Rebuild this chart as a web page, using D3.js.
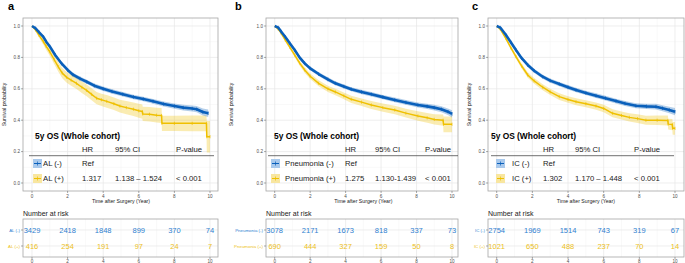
<!DOCTYPE html>
<html><head><meta charset="utf-8">
<script src="https://cdn.jsdelivr.net/npm/d3@7"></script>
<style>body{margin:0;background:#fff}svg{display:block;font-family:"Liberation Sans",Arial,sans-serif}</style>
</head><body><svg id="c" width="685" height="263"></svg>
<script>
// ---------- DATA ----------
const panelLetters = ["a", "b", "c"];
const groupNeg = ["AL (-)", "Pneumonia (-)", "IC (-)"];
const groupPos = ["AL (+)", "Pneumonia (+)", "IC (+)"];
const hrValues = ["1.317", "1.275", "1.302"];
const ciValues = ["1.138 \u2013 1.524", "1.130-1.439", "1.170 \u2013 1.448"];
const pValues = ["< 0.001", "< 0.001", "< 0.001"];
const xTicks = [0, 2, 4, 6, 8, 10];
const yTicks = [0, 0.2, 0.4, 0.6, 0.8, 1.0];
const riskTimes = [0, 2, 4, 6, 8, 10];

// Panel a
const tA_neg = [0,0.2,0.4,0.64,0.8,1.0,1.3,1.67,2.0,2.3,2.7,3.07,3.5,4.0,4.5,5.1,5.7,6.25,6.8,7.4,8.0,8.5,9.0,9.25,9.6,9.9];
const sA_neg = [1,0.985,0.96,0.93,0.90,0.87,0.815,0.76,0.72,0.69,0.665,0.645,0.62,0.60,0.583,0.565,0.548,0.535,0.52,0.503,0.49,0.48,0.474,0.47,0.452,0.444];
const hA_neg = [0,0.004,0.006,0.008,0.009,0.01,0.011,0.012,0.012,0.013,0.013,0.013,0.013,0.014,0.014,0.014,0.014,0.015,0.015,0.016,0.017,0.018,0.019,0.02,0.022,0.024];
const tA_pos = [0,0.2,0.4,0.64,0.8,1.0,1.25,1.48,1.7,1.95,2.2,2.5,2.8,3.07,3.35,3.63,3.9,4.2,4.6,4.94,5.3,5.7,6.0,6.2,6.22,6.6,7.0,7.28,7.3,8.0,9.0,9.8,9.82,10];
const sA_pos = [1,0.975,0.94,0.90,0.87,0.836,0.785,0.74,0.70,0.673,0.655,0.635,0.61,0.59,0.565,0.54,0.53,0.52,0.505,0.49,0.48,0.47,0.46,0.455,0.44,0.438,0.432,0.43,0.38,0.38,0.38,0.38,0.295,0.295];
const hA_pos = [0,0.01,0.015,0.02,0.023,0.026,0.029,0.031,0.033,0.034,0.035,0.036,0.037,0.038,0.038,0.039,0.039,0.04,0.04,0.041,0.042,0.043,0.044,0.045,0.045,0.046,0.047,0.048,0.048,0.049,0.05,0.05,0.1,0.1];

// Panel b
const tB_neg = [0,0.2,0.37,0.6,0.85,1.13,1.4,1.69,2.0,2.48,3.0,3.42,3.9,4.32,4.9,5.45,6.1,6.77,7.4,8.08,8.6,9.0,9.4,9.77,10];
const sB_neg = [1,0.99,0.964,0.93,0.89,0.847,0.80,0.762,0.73,0.694,0.66,0.635,0.615,0.597,0.58,0.565,0.547,0.529,0.513,0.497,0.488,0.48,0.47,0.454,0.44];
const hB_neg = [0,0.004,0.006,0.008,0.009,0.01,0.011,0.012,0.012,0.012,0.013,0.013,0.013,0.013,0.014,0.014,0.014,0.015,0.015,0.016,0.017,0.018,0.019,0.021,0.023];
const tB_pos = [0,0.2,0.37,0.6,0.85,1.13,1.4,1.69,2.0,2.48,3.0,3.42,3.9,4.32,4.9,5.45,6.1,6.77,7.4,8.08,8.6,9.0,9.5,9.52,10];
const sB_pos = [1,0.98,0.953,0.91,0.865,0.815,0.765,0.72,0.68,0.635,0.60,0.58,0.555,0.533,0.515,0.497,0.48,0.465,0.445,0.427,0.415,0.405,0.40,0.374,0.374];
const hB_pos = [0,0.006,0.008,0.01,0.012,0.014,0.016,0.017,0.018,0.019,0.02,0.021,0.022,0.023,0.024,0.025,0.026,0.027,0.028,0.03,0.031,0.033,0.036,0.05,0.05];

// Panel c
const tC_neg = [0,0.2,0.52,0.8,1.08,1.4,1.74,2.1,2.58,3.0,3.51,4.0,4.45,5.0,5.57,6.1,6.69,7.2,7.81,8.4,8.93,9.3,9.68,10];
const sC_neg = [1,0.99,0.943,0.895,0.847,0.795,0.752,0.715,0.677,0.652,0.63,0.61,0.592,0.574,0.556,0.54,0.522,0.507,0.492,0.488,0.486,0.476,0.465,0.454];
const hC_neg = [0,0.004,0.007,0.009,0.01,0.011,0.012,0.012,0.013,0.013,0.013,0.014,0.014,0.014,0.015,0.015,0.015,0.016,0.016,0.017,0.018,0.019,0.021,0.023];
const tC_pos = [0,0.2,0.52,0.8,1.08,1.4,1.74,2.1,2.58,3.0,3.51,4.0,4.45,5.0,5.57,6.0,6.5,7.0,7.44,7.9,8.37,9.0,9.6,9.62,9.85,9.87,10];
const sC_pos = [1,0.98,0.92,0.86,0.805,0.745,0.688,0.65,0.61,0.58,0.55,0.532,0.518,0.505,0.49,0.475,0.444,0.43,0.418,0.41,0.40,0.40,0.398,0.375,0.372,0.348,0.348];
const hC_pos = [0,0.006,0.01,0.012,0.014,0.016,0.017,0.018,0.019,0.02,0.021,0.021,0.022,0.022,0.023,0.024,0.025,0.026,0.027,0.028,0.029,0.03,0.032,0.034,0.036,0.04,0.04];

const riskA_neg = [3429, 2418, 1848, 899, 370, 74];
const riskA_pos = [416, 254, 191, 97, 24, 7];
const riskB_neg = [3078, 2171, 1673, 818, 337, 73];
const riskB_pos = [690, 444, 327, 159, 50, 8];
const riskC_neg = [2754, 1969, 1514, 743, 319, 67];
const riskC_pos = [1021, 650, 488, 237, 70, 14];

// ---------- LAYOUT ----------
const BLUE = "#0a60bb", YELLOW = "#EFC000";
const BLUE_T = "#2f7fd0", YELLOW_T = "#edbf1c";
const layouts = [
  {boxL: 23, boxR: 218, x0: 32, x10: 210, letterX: 8, yTitleX: 4,
   leg: {title: 35, key: 33, label: 43, hr: 82, ci: 115, p: 176, l1: 29, l2: 214}},
  {boxL: 266, boxR: 458, x0: 274.7, x10: 452, letterX: 235, yTitleX: 231,
   leg: {title: 274, key: 271, label: 285, hr: 345, ci: 375, p: 425, l1: 268, l2: 458}},
  {boxL: 488, boxR: 684, x0: 496.7, x10: 675, letterX: 472, yTitleX: 469,
   leg: {title: 491, key: 496, label: 512, hr: 543, ci: 575, p: 634, l1: 491, l2: 674}}
];
const series = [
  {neg: [tA_neg, sA_neg, hA_neg], pos: [tA_pos, sA_pos, hA_pos], rn: riskA_neg, rp: riskA_pos},
  {neg: [tB_neg, sB_neg, hB_neg], pos: [tB_pos, sB_pos, hB_pos], rn: riskB_neg, rp: riskB_pos},
  {neg: [tC_neg, sC_neg, hC_neg], pos: [tC_pos, sC_pos, hC_pos], rn: riskC_neg, rp: riskC_pos}
];

const svg = d3.select("#c");
const boxT = 18, boxB = 191;
const y = d3.scaleLinear().domain([0, 1]).range([183, 26]);

series.forEach((sr, i) => {
  const L = layouts[i];
  const x = d3.scaleLinear().domain([0, 10]).range([L.x0, L.x10]);
  const g = svg.append("g");

  g.append("text").attr("x", L.letterX).attr("y", 10).attr("font-size", 11).attr("font-weight", "bold").text(panelLetters[i]);

  // grid
  const minorX = d3.range(1, 10, 2), minorY = d3.range(0.1, 1, 0.2);
  g.selectAll(".mx").data(minorX).join("line").attr("x1", d => x(d)).attr("x2", d => x(d)).attr("y1", boxT).attr("y2", boxB).attr("stroke", "#f2f2f2").attr("stroke-width", 0.5);
  g.selectAll(".my").data(minorY).join("line").attr("x1", L.boxL).attr("x2", L.boxR).attr("y1", d => y(d)).attr("y2", d => y(d)).attr("stroke", "#f2f2f2").attr("stroke-width", 0.5);
  g.selectAll(".gx").data(xTicks).join("line").attr("x1", d => x(d)).attr("x2", d => x(d)).attr("y1", boxT).attr("y2", boxB).attr("stroke", "#e6e6e6").attr("stroke-width", 0.7);
  g.selectAll(".gy").data(yTicks).join("line").attr("x1", L.boxL).attr("x2", L.boxR).attr("y1", d => y(d)).attr("y2", d => y(d)).attr("stroke", "#e6e6e6").attr("stroke-width", 0.7);

  // curves
  const clipId = "clip" + i;
  g.append("clipPath").attr("id", clipId).append("rect").attr("x", L.boxL).attr("y", boxT).attr("width", L.boxR - L.boxL).attr("height", boxB - boxT);
  const cg = g.append("g").attr("clip-path", `url(#${clipId})`);
  const drawSeries = (arr, color, fillOp, lw, markH) => {
    const [t, s, h] = arr;
    const pts = t.map((d, k) => ({t: d, s: s[k], lo: s[k] - h[k], hi: Math.min(1, s[k] + h[k])}));
    cg.append("path").datum(pts).attr("fill", color).attr("fill-opacity", fillOp)
      .attr("d", d3.area().x(d => x(d.t)).y0(d => y(d.lo)).y1(d => y(d.hi)));
    cg.append("path").datum(pts).attr("fill", "none").attr("stroke", color).attr("stroke-width", lw).attr("stroke-linejoin", "round")
      .attr("d", d3.line().x(d => x(d.t)).y(d => y(d.s)));
    const marks = pts.slice(1);
    cg.selectAll(null).data(marks).join("line")
      .attr("x1", d => x(d.t)).attr("x2", d => x(d.t))
      .attr("y1", d => y(d.s) - markH).attr("y2", d => y(d.s) + markH)
      .attr("stroke", color).attr("stroke-width", 0.7);
  };
  drawSeries(sr.pos, YELLOW, 0.3, 1.5, 1.6);
  drawSeries(sr.neg, BLUE, 0.3, 2.6, 1.8);

  // box
  g.append("rect").attr("x", L.boxL).attr("y", boxT).attr("width", L.boxR - L.boxL).attr("height", boxB - boxT)
    .attr("fill", "none").attr("stroke", "#a6a6a6").attr("stroke-width", 0.8);

  // axes
  g.selectAll(".yt").data(yTicks).join("line").attr("x1", L.boxL - 2).attr("x2", L.boxL).attr("y1", d => y(d)).attr("y2", d => y(d)).attr("stroke", "#555").attr("stroke-width", 0.5);
  g.selectAll(".ytl").data(yTicks).join("text").attr("x", L.boxL - 3).attr("y", d => y(d) + 1.6).attr("text-anchor", "end")
    .attr("font-size", 4.6).attr("fill", "#4d4d4d").text(d => d.toFixed(1));
  g.selectAll(".xt").data(xTicks).join("line").attr("x1", d => x(d)).attr("x2", d => x(d)).attr("y1", boxB).attr("y2", boxB + 2).attr("stroke", "#555").attr("stroke-width", 0.5);
  g.selectAll(".xtl").data(xTicks).join("text").attr("x", d => x(d)).attr("y", boxB + 7).attr("text-anchor", "middle")
    .attr("font-size", 4.6).attr("fill", "#4d4d4d").text(d => d);
  g.append("text").attr("x", (L.x0 + L.x10) / 2).attr("y", 203).attr("text-anchor", "middle").attr("font-size", 5.2).attr("fill", "#222").text("Time after Surgery (Year)");
  g.append("text").attr("transform", `translate(${L.yTitleX + 2},${y(0.5)}) rotate(-90)`).attr("text-anchor", "middle").attr("font-size", 5.2).attr("fill", "#222").text("Survival probability");

  // legend table
  const lg = L.leg;
  const fs = 7.7;
  g.append("text").attr("x", lg.title).attr("y", 138.6).attr("font-size", 8.4).attr("font-weight", "bold").text("5y OS (Whole cohort)");
  [["HR", lg.hr], ["95% CI", lg.ci], ["P-value", lg.p]].forEach(([tx, px]) =>
    g.append("text").attr("x", px).attr("y", 152).attr("font-size", fs).attr("fill", "#222").text(tx));
  g.append("line").attr("x1", lg.l1).attr("x2", lg.l2).attr("y1", 155.7).attr("y2", 155.7).attr("stroke", "#333").attr("stroke-width", 0.7);
  const rows = [
    {lab: groupNeg[i], col: BLUE, fill: "#a9c9ec", cy: 163.5, hr: "Ref", ci: "", p: ""},
    {lab: groupPos[i], col: YELLOW, fill: "#f8e6a0", cy: 178.5, hr: hrValues[i], ci: ciValues[i], p: pValues[i]}
  ];
  rows.forEach(r => {
    g.append("rect").attr("x", lg.key).attr("y", r.cy - 4.5).attr("width", 9).attr("height", 9).attr("fill", r.fill);
    g.append("line").attr("x1", lg.key + 1).attr("x2", lg.key + 8).attr("y1", r.cy).attr("y2", r.cy).attr("stroke", r.col).attr("stroke-width", 1);
    g.append("line").attr("x1", lg.key + 4.5).attr("x2", lg.key + 4.5).attr("y1", r.cy - 2).attr("y2", r.cy + 2).attr("stroke", r.col).attr("stroke-width", 0.7);
    [[r.lab, lg.label], [r.hr, lg.hr], [r.ci, lg.ci], [r.p, lg.p]].forEach(([tx, px]) =>
      g.append("text").attr("x", px).attr("y", r.cy + 2.7).attr("font-size", fs).attr("fill", "#222").text(tx));
  });

  // risk table
  const rT = 219, rB = 257;
  const rowY = [230, 246];
  g.append("text").attr("x", L.boxL).attr("y", 216).attr("font-size", 7).attr("fill", "#222").text("Number at risk");
  g.selectAll(".rgx").data(d3.range(0, 11)).join("line").attr("x1", d => x(d)).attr("x2", d => x(d)).attr("y1", rT).attr("y2", rB)
    .attr("stroke", d => d % 2 ? "#f2f2f2" : "#e6e6e6").attr("stroke-width", d => d % 2 ? 0.5 : 0.7);
  g.selectAll(".rgy").data(rowY).join("line").attr("x1", L.boxL).attr("x2", L.boxR).attr("y1", d => d).attr("y2", d => d).attr("stroke", "#e6e6e6").attr("stroke-width", 0.7);
  g.append("rect").attr("x", L.boxL).attr("y", rT).attr("width", L.boxR - L.boxL).attr("height", rB - rT).attr("fill", "none").attr("stroke", "#a6a6a6").attr("stroke-width", 0.8);
  [[sr.rn, BLUE_T, groupNeg[i]], [sr.rp, YELLOW_T, groupPos[i]]].forEach(([vals, col, lab], k) => {
    g.selectAll(null).data(riskTimes).join("text").attr("x", d => x(d)).attr("y", rowY[k] + 2.6).attr("text-anchor", "middle")
      .attr("font-size", 7.5).attr("fill", col).text((d, j) => vals[j]);
    g.append("line").attr("x1", L.boxL - 2).attr("x2", L.boxL).attr("y1", rowY[k]).attr("y2", rowY[k]).attr("stroke", "#555").attr("stroke-width", 0.5);
    g.append("text").attr("x", L.boxL - 3).attr("y", rowY[k] + 1.5).attr("text-anchor", "end").attr("font-size", 4.4).attr("fill", col).text(lab);
  });
  g.selectAll(".rxt").data(xTicks).join("line").attr("x1", d => x(d)).attr("x2", d => x(d)).attr("y1", rB).attr("y2", rB + 2).attr("stroke", "#555").attr("stroke-width", 0.5);
  g.selectAll(".rxtl").data(xTicks).join("text").attr("x", d => x(d)).attr("y", 263).attr("text-anchor", "middle")
    .attr("font-size", 4.6).attr("fill", "#4d4d4d").text(d => d);
});
</script></body></html>
